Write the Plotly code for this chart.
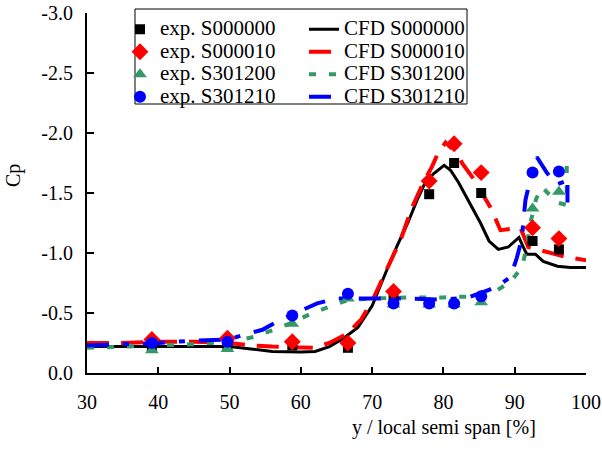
import plotly.graph_objects as go

# ---------------- data ----------------
exp_x = [39.1, 49.7, 58.8, 66.6, 73.0, 78.0, 81.5, 85.3, 92.5, 96.2]
exp_s000000 = [-0.22, -0.22, -0.23, -0.21, -0.61, -1.49, -1.75, -1.50, -1.10, -1.03]
exp_s000010 = [-0.28, -0.29, -0.26, -0.25, -0.68, -1.60, -1.91, -1.67, -1.21, -1.12]
exp_s301200 = [-0.19, -0.20, -0.41, -0.62, -0.57, -0.57, -0.57, -0.59, -1.37, -1.51]
exp_s301210 = [-0.25, -0.26, -0.48, -0.66, -0.58, -0.58, -0.58, -0.64, -1.67, -1.68]

cfd0_x = [30, 35, 40, 45, 50, 53, 56, 60, 62, 64, 66, 68, 70, 72, 73.5, 75, 76.3, 77.4,
          78.6, 80.1, 81, 82.1, 83.8, 85.2, 86.4, 87.7, 89.1, 90.6, 91.2, 91.7, 92.9, 94,
          96, 97.8, 100]
cfd0_y = [-0.22, -0.22, -0.22, -0.22, -0.22, -0.20, -0.18, -0.175, -0.18, -0.22, -0.29,
          -0.38, -0.56, -0.85, -1.06, -1.25, -1.44, -1.58, -1.66, -1.73, -1.69, -1.59,
          -1.41, -1.25, -1.10, -1.03, -1.05, -1.13, -1.05, -0.99, -0.99, -0.93, -0.89,
          -0.88, -0.88]

cfd10_x = [30, 35, 40, 45, 50, 53, 56, 59.5, 61.7, 64, 66.6, 68.5, 70, 72.1, 73, 74, 75.6,
           77.2, 78.4, 79.3, 80.3, 81, 81.6, 82.6, 84.2, 85.6, 86.6, 88, 90.8, 91.9, 95,
           97, 100]
cfd10_y = [-0.25, -0.25, -0.26, -0.26, -0.25, -0.23, -0.22, -0.21, -0.21, -0.25, -0.33,
           -0.45, -0.60, -0.87, -0.98, -1.11, -1.38, -1.59, -1.72, -1.84, -1.92, -1.88,
           -1.91, -1.75, -1.62, -1.47, -1.38, -1.19, -1.21, -1.05, -1.00, -0.97, -0.94]

cfd1200_x = [30, 35, 40, 45, 50, 53.4, 56.2, 58.8, 61.6, 64.2, 66.7, 70, 75, 80, 85, 87,
             89.4, 91, 91.7, 92.2, 93, 93.8, 95, 96, 97.3, 97.3]
cfd1200_y = [-0.21, -0.22, -0.23, -0.24, -0.26, -0.30, -0.36, -0.42, -0.50, -0.56, -0.61,
             -0.62, -0.63, -0.63, -0.64, -0.67, -0.76, -0.88, -1.05, -1.25, -1.45, -1.55,
             -1.48, -1.42, -1.40, -1.82]

cfd1210_x = [30, 35, 40, 45, 50, 52, 54.6, 57, 59.5, 62.3, 65, 67.4, 70.5, 75, 80, 83.5,
             86.3, 88, 89.4, 90.3, 91, 91.5, 92.2, 93.1, 94.5, 95.8, 97.2, 97.4, 97.4]
cfd1210_y = [-0.23, -0.24, -0.25, -0.27, -0.28, -0.32, -0.36, -0.44, -0.51, -0.58, -0.62,
             -0.62, -0.62, -0.62, -0.61, -0.63, -0.69, -0.74, -0.80, -0.96, -1.12, -1.44,
             -1.62, -1.80, -1.67, -1.57, -1.60, -1.63, -1.42]

x_ticks = [30, 40, 50, 60, 70, 80, 90, 100]
y_ticks = [0.0, -0.5, -1.0, -1.5, -2.0, -2.5, -3.0]
y_tick_labels = ["0.0", "-0.5", "-1.0", "-1.5", "-2.0", "-2.5", "-3.0"]

FONT = "Liberation Serif, Times New Roman, serif"
GREEN = "#339966"

def lname(s):
    return '<span style="font-size:21px">' + s + '</span>'

fig = go.Figure()

# CFD lines (drawn first, markers on top)
fig.add_trace(go.Scatter(x=cfd0_x, y=cfd0_y, mode="lines", name=lname("CFD S000000"),
                         line=dict(color="black", width=3), legend="legend2"))
fig.add_trace(go.Scatter(x=cfd10_x, y=cfd10_y, mode="lines", name=lname("CFD S000010"),
                         line=dict(color="#FF0000", width=4, dash="22px,12px"), legend="legend2"))
fig.add_trace(go.Scatter(x=cfd1200_x, y=cfd1200_y, mode="lines", name=lname("CFD S301200"),
                         line=dict(color=GREEN, width=4, dash="7px,13px"), legend="legend2"))
fig.add_trace(go.Scatter(x=cfd1210_x, y=cfd1210_y, mode="lines", name=lname("CFD S301210"),
                         line=dict(color="#0000FF", width=4, dash="22px,14px,6px,14px"),
                         legend="legend2"))

# experiments
fig.add_trace(go.Scatter(x=exp_x, y=exp_s000000, mode="markers", name=lname("exp. S000000"),
                         marker=dict(symbol="square", size=10, color="black")))
fig.add_trace(go.Scatter(x=exp_x, y=exp_s000010, mode="markers", name=lname("exp. S000010"),
                         marker=dict(symbol="diamond", size=13, color="#FF0000")))
fig.add_trace(go.Scatter(x=exp_x, y=exp_s301200, mode="markers", name=lname("exp. S301200"),
                         marker=dict(symbol="triangle-up", size=12, color=GREEN)))
fig.add_trace(go.Scatter(x=exp_x, y=exp_s301210, mode="markers", name=lname("exp. S301210"),
                         marker=dict(symbol="circle", size=12, color="#0000FF")))

W, H = 602, 452
ML, MR, MT, MB = 87, 16, 13, 79
PW, PH = W - ML - MR, H - MT - MB

def px(xp):
    return (xp - ML) / PW

def py(yp):
    return (H - MB - yp) / PH

fig.update_layout(
    template="none",
    width=W, height=H,
    margin=dict(l=ML, r=MR, t=MT, b=MB, autoexpand=False),
    paper_bgcolor="white", plot_bgcolor="white",
    font=dict(family=FONT, size=20, color="black"),
    showlegend=True,
    legend=dict(x=px(120), y=1.0, xanchor="left", yanchor="top",
                bgcolor="rgba(0,0,0,0)", borderwidth=0,
                font=dict(family=FONT, size=15, color="black"), tracegroupgap=0),
    legend2=dict(x=px(304), y=1.0, xanchor="left", yanchor="top",
                 bgcolor="rgba(0,0,0,0)", borderwidth=0,
                 font=dict(family=FONT, size=15, color="black"), tracegroupgap=0),
    xaxis=dict(range=[30, 100], tickvals=x_ticks, ticks="inside", ticklen=6, tickwidth=2,
               tickcolor="black", showline=True, linecolor="black", linewidth=2,
               showgrid=False, zeroline=False, tickfont=dict(family=FONT, size=20),
               ticklabelstandoff=10, automargin=False),
    yaxis=dict(range=[0, -3], tickvals=y_ticks, ticktext=y_tick_labels, ticks="inside",
               ticklen=7, tickwidth=2, tickcolor="black", showline=True, linecolor="black",
               linewidth=2, showgrid=False, zeroline=False,
               tickfont=dict(family=FONT, size=20), ticklabelstandoff=8, automargin=False),
    shapes=[dict(type="rect", xref="paper", yref="paper",
                 x0=px(135), x1=px(467), y0=py(104), y1=py(9),
                 line=dict(color="black", width=1), fillcolor="rgba(0,0,0,0)")],
    annotations=[
        dict(text="y / local semi span [%]", xref="paper", yref="paper",
             x=px(444), y=py(428), xanchor="center", yanchor="middle", showarrow=False,
             font=dict(family=FONT, size=20)),
        dict(text="Cp", xref="paper", yref="paper", x=px(14), y=py(176),
             xanchor="center", yanchor="middle", textangle=-90, showarrow=False,
             font=dict(family=FONT, size=20)),
    ],
)

fig.write_html("out.html")
